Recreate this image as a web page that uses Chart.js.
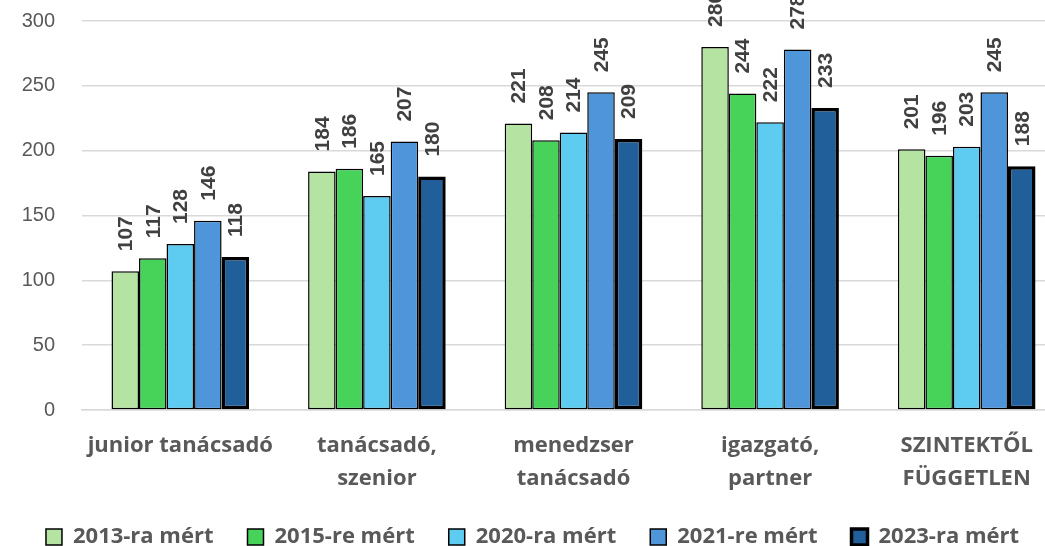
<!DOCTYPE html>
<html>
<head>
<meta charset="utf-8">
<script src="https://cdn.jsdelivr.net/npm/chart.js@4.4.1/dist/chart.umd.min.js"></script>
<style>
  html, body { margin: 0; padding: 0; background: #fff; overflow: hidden; }
  #frame { width: 1045px; height: 546px; overflow: hidden; }
  #box { position: relative; width: 1065px; height: 558px; }
</style>
</head>
<body>
<div id="frame"><div id="box"><canvas id="chart"></canvas></div></div>
<script>
const categories = [
    ['junior tanácsadó'],
    ['tanácsadó,', 'szenior'],
    ['menedzser', 'tanácsadó'],
    ['igazgató,', 'partner'],
    ['SZINTEKTŐL', 'FÜGGETLEN']
];
const seriesNames = ['2013-ra mért', '2015-re mért', '2020-ra mért', '2021-re mért', '2023-ra mért'];
const values2013 = [107, 184, 221, 280, 201];
const values2015 = [117, 186, 208, 244, 196];
const values2020 = [128, 165, 214, 222, 203];
const values2021 = [146, 207, 245, 278, 245];
const values2023 = [118, 180, 209, 233, 188];
const yTicks = [0, 50, 100, 150, 200, 250, 300];

const fillColors = ['#b5e3a2', '#47d35a', '#5ecbf1', '#4f95da', '#215f9a'];
const borderWidths = [1.5, 1.5, 1.5, 1.5, 3.5];
const allValues = [values2013, values2015, values2020, values2021, values2023];

const textGray = '#595959';
const labelFamily = '"Open Sans", Roboto, sans-serif';
const legendFont = 22;
const legendPad = 34;
// canvas 558 high, plot bottom at 410: whatever is left goes to the x axis
const xAxisHeight = 558 - (legendFont + legendPad + 10) - 410;

// rotated value labels above each bar
const barLabels = {
    id: 'barLabels',
    afterDatasetsDraw(chart) {
        const ctx = chart.ctx;
        ctx.save();
        ctx.fillStyle = '#404040';
        ctx.font = 'bold 21px "Liberation Sans", Arial, sans-serif';
        ctx.textAlign = 'left';
        ctx.textBaseline = 'middle';
        chart.data.datasets.forEach((ds, i) => {
            chart.getDatasetMeta(i).data.forEach((bar, j) => {
                ctx.save();
                ctx.translate(bar.x + 1, bar.y - 20);
                ctx.rotate(-Math.PI / 2);
                ctx.fillText(String(ds.data[j]), 0, 0);
                ctx.restore();
            });
        });
        ctx.restore();
    }
};

const datasets = seriesNames.map((name, i) => ({
    label: name,
    data: allValues[i],
    backgroundColor: fillColors[i],
    borderColor: '#000000',
    borderWidth: borderWidths[i],
    borderSkipped: false,
    categoryPercentage: 0.7,
    barPercentage: 1.0
}));

new Chart(document.getElementById('chart'), {
    type: 'bar',
    data: { labels: categories, datasets: datasets },
    plugins: [barLabels],
    options: {
        responsive: true,
        maintainAspectRatio: false,
        animation: false,
        layout: { padding: { top: 21, left: 0, right: 0, bottom: 0 } },
        plugins: {
            tooltip: { enabled: false },
            legend: {
                position: 'bottom',
                labels: {
                    color: textGray,
                    font: { family: labelFamily, size: legendFont, weight: 'bold' },
                    boxWidth: 16,
                    boxHeight: 16,
                    padding: legendPad
                }
            }
        },
        scales: {
            x: {
                grid: { display: false, drawTicks: false },
                border: { display: true, color: '#d9d9d9', width: 1.5 },
                ticks: {
                    color: textGray,
                    font: { family: labelFamily, size: 22, weight: 'bold', lineHeight: 1.5 },
                    padding: 19,
                    maxRotation: 0,
                    autoSkip: false
                },
                afterFit(scale) {
                    scale.height = xAxisHeight;
                    scale.paddingLeft = 0;
                    scale.paddingRight = 0;
                }
            },
            y: {
                min: 0,
                max: 300,
                afterBuildTicks(scale) { scale.ticks = yTicks.map(v => ({ value: v })); },
                grid: { color: '#d9d9d9', lineWidth: 1.5, drawTicks: false },
                border: { display: false },
                ticks: {
                    color: textGray,
                    font: { family: '"Liberation Sans", Arial, sans-serif', size: 20 },
                    padding: 27
                },
                afterFit(scale) {
                    scale.width = 82;
                    scale.paddingTop = 0;
                    scale.paddingBottom = 0;
                }
            }
        }
    }
});
</script>
</body>
</html>
